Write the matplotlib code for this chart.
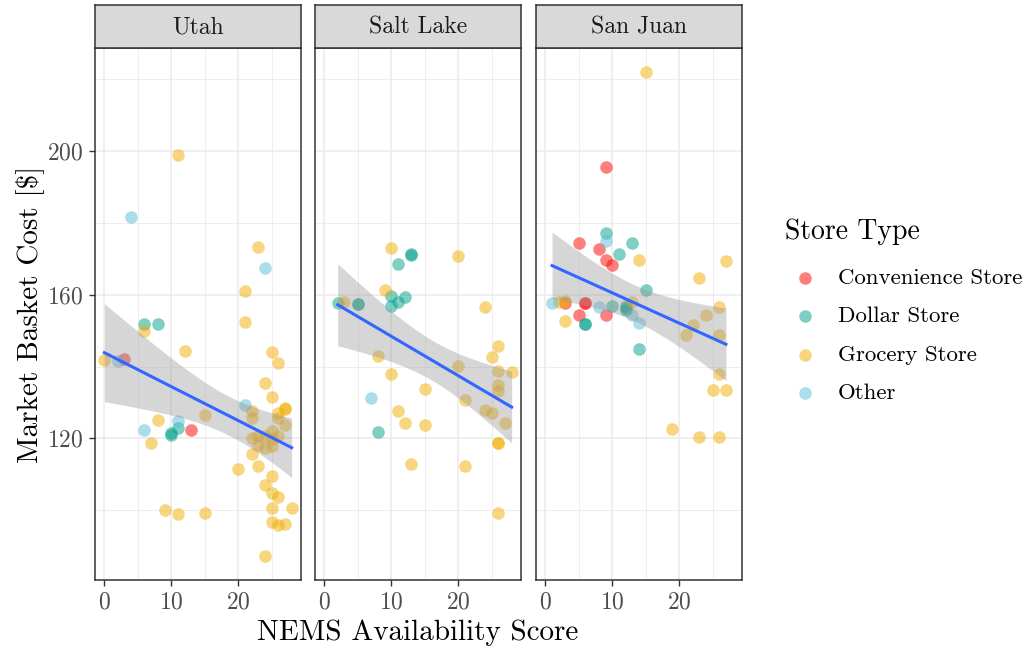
import numpy as np
import matplotlib
import matplotlib.pyplot as plt

matplotlib.use('Agg')

plt.rcParams['font.family'] = ['cmr10', 'DejaVu Serif']
plt.rcParams['axes.formatter.use_mathtext'] = True
plt.rcParams['mathtext.fontset'] = 'cm'

# store types and palette (wes anderson Darjeeling1)
store_types = ["Convenience Store", "Dollar Store", "Grocery Store", "Other"]
store_colors = ["#FF0000", "#00A08A", "#F2AD00", "#5BBCD6"]
counties = ["Utah", "Salt Lake", "San Juan"]

# ---- Utah ----
utah_conv_x = [3, 13]
utah_conv_y = [142.0, 122.3]
utah_dollar_x = [6, 8, 11, 10, 10]
utah_dollar_y = [152.0, 152.0, 123.0, 121.6, 121.0]
utah_groc_x = [0, 11, 23, 21, 6, 21, 12, 25, 26, 24, 25, 27, 27, 26, 22, 22, 26, 27,
               15, 8, 7, 25, 24, 26, 22, 23, 25, 23, 24, 25, 22, 23, 20, 25, 24,
               25, 26, 25, 28, 9, 11, 15, 25, 26, 27, 24]
utah_groc_y = [141.9, 199.0, 173.2, 161.0, 150.0, 152.4, 144.3, 144.1, 141.0, 135.3,
               131.6, 128.5, 128.3, 127.1, 127.6, 125.7, 125.7, 123.6, 126.4, 125.1,
               118.8, 122.0, 120.6, 120.6, 120.0, 120.6, 119.7, 118.3, 117.4, 117.8,
               115.6, 112.2, 111.4, 109.4, 107.0, 104.7, 103.6, 100.6, 100.5, 100.0,
               99.0, 99.2, 96.6, 96.0, 96.2, 87.3]
utah_other_x = [4, 24, 2, 21, 11, 6]
utah_other_y = [181.8, 167.4, 141.5, 129.2, 124.8, 122.3]

# ---- Salt Lake ----
sl_conv_x = []
sl_conv_y = []
sl_dollar_x = [13, 13, 11, 10, 12, 11, 10, 2, 5, 5, 8]
sl_dollar_y = [171.4, 171.0, 168.6, 159.8, 159.3, 158.1, 156.8, 157.7, 157.5, 157.5, 121.9]
sl_groc_x = [10, 20, 9, 3, 24, 26, 25, 8, 20, 10, 26, 28, 26, 26, 15, 21, 24, 25,
             11, 12, 15, 27, 26, 26, 13, 21, 26]
sl_groc_y = [173.1, 170.8, 161.4, 157.9, 156.6, 145.6, 142.7, 143.0, 140.3, 138.0,
             138.7, 138.5, 134.8, 133.3, 133.9, 130.6, 127.9, 127.1, 127.6, 124.3,
             123.7, 124.2, 118.8, 118.6, 112.9, 112.3, 99.2]
sl_other_x = [7]
sl_other_y = [131.2]

# ---- San Juan ----
sj_conv_x = [9, 5, 8, 9, 10, 3, 6, 6, 5, 9]
sj_conv_y = [195.5, 174.5, 172.7, 169.7, 168.3, 157.7, 157.7, 157.7, 154.4, 154.4]
sj_dollar_x = [9, 13, 11, 15, 10, 12, 12, 12, 6, 6, 14]
sj_dollar_y = [177.1, 174.4, 171.4, 161.2, 157.0, 157.0, 155.7, 156.2, 151.9, 151.9, 144.9]
sj_groc_x = [15, 14, 27, 23, 2, 3, 13, 3, 26, 24, 22, 21, 26, 26, 25, 27, 19, 23, 26]
sj_groc_y = [222.0, 169.7, 169.4, 164.8, 157.9, 158.4, 157.9, 152.8, 156.5, 154.4,
             151.6, 148.7, 148.9, 137.8, 133.6, 133.4, 122.5, 120.5, 120.3]
sj_other_x = [9, 1, 8, 13, 14]
sj_other_y = [175.1, 157.7, 156.6, 154.3, 152.1]

panels = {
    "Utah": [(utah_conv_x, utah_conv_y), (utah_dollar_x, utah_dollar_y),
             (utah_groc_x, utah_groc_y), (utah_other_x, utah_other_y)],
    "Salt Lake": [(sl_conv_x, sl_conv_y), (sl_dollar_x, sl_dollar_y),
                  (sl_groc_x, sl_groc_y), (sl_other_x, sl_other_y)],
    "San Juan": [(sj_conv_x, sj_conv_y), (sj_dollar_x, sj_dollar_y),
                 (sj_groc_x, sj_groc_y), (sj_other_x, sj_other_y)],
}

W, H = 1029, 651


def px_box(left, top, right, bottom):
    return [left / W, 1 - bottom / H, (right - left) / W, (bottom - top) / H]


def lm_band(x, y):
    """ linear fit with 95% confidence band, like geom_smooth(method='lm') """
    x = np.asarray(x, float)
    y = np.asarray(y, float)
    n = len(x)
    b, a = np.polyfit(x, y, 1)
    resid = y - (a + b * x)
    s = np.sqrt(np.sum(resid ** 2) / (n - 2))
    sxx = np.sum((x - x.mean()) ** 2)
    t = 1.96 + 2.4 / (n - 2)
    xs = np.linspace(x.min(), x.max(), 80)
    yhat = a + b * xs
    se = s * np.sqrt(1.0 / n + (xs - x.mean()) ** 2 / sxx)
    return xs, yhat, yhat - t * se, yhat + t * se


def main():
    fig = plt.figure(figsize=(W / 100, H / 100), dpi=100)

    all_x = []
    all_y = []
    for county in counties:
        for xs, ys in panels[county]:
            all_x += list(xs)
            all_y += list(ys)
    xr = max(all_x) - min(all_x)
    yr = max(all_y) - min(all_y)
    xlim = (min(all_x) - 0.05 * xr, max(all_x) + 0.05 * xr)
    ylim = (min(all_y) - 0.05 * yr, max(all_y) + 0.05 * yr)

    lefts = [95, 315, 536]
    for i, county in enumerate(counties):
        left = lefts[i]
        ax = fig.add_axes(px_box(left, 48, left + 206, 580))
        ax.set_xlim(xlim)
        ax.set_ylim(ylim)
        ax.set_xticks([0, 10, 20])
        ax.set_xticks([5, 15, 25], minor=True)
        ax.set_yticks([120, 160, 200])
        ax.set_yticks([100, 140, 180, 220], minor=True)
        ax.grid(True, which='major', color='#EBEBEB', linewidth=1.1)
        ax.grid(True, which='minor', color='#EBEBEB', linewidth=0.6)
        ax.set_axisbelow(True)
        for sp in ax.spines.values():
            sp.set_color('#333333')
            sp.set_linewidth(1.1)
        ax.tick_params(which='major', length=4.5, width=1.0, color='#333333',
                       labelsize=17, labelcolor='#4D4D4D', pad=3.5)
        ax.tick_params(which='minor', length=0)
        if i > 0:
            ax.tick_params(axis='y', labelleft=False, length=0)

        px_all = []
        py_all = []
        for (xs, ys), col in zip(panels[county], store_colors):
            if len(xs) == 0:
                continue
            ax.scatter(xs, ys, s=82, color=col, alpha=0.5, linewidths=0, zorder=2)
            px_all += list(xs)
            py_all += list(ys)

        xs, yhat, lo, hi = lm_band(px_all, py_all)
        ax.fill_between(xs, lo, hi, color='#999999', alpha=0.4, linewidth=0, zorder=3)
        ax.plot(xs, yhat, color='#3366FF', linewidth=2.2, zorder=4)

        # facet strip
        sax = fig.add_axes(px_box(left, 5, left + 206, 48))
        sax.set_facecolor('#D9D9D9')
        sax.set_xticks([])
        sax.set_yticks([])
        for sp in sax.spines.values():
            sp.set_color('#333333')
            sp.set_linewidth(1.1)
        sax.text(0.5, 0.47, county, ha='center', va='center', fontsize=17,
                 color='#1A1A1A', transform=sax.transAxes)

    fig.text(418 / W, 1 - 633 / H, "NEMS Availability Score", ha='center', va='center',
             fontsize=21)
    fig.text(30 / W, 1 - 314 / H, r"Market Basket Cost [\$]", ha='center', va='center',
             rotation=90, fontsize=21)

    # legend, placed by hand in pixel coordinates
    lax = fig.add_axes([0, 0, 1, 1])
    lax.set_xlim(0, W)
    lax.set_ylim(H, 0)
    lax.axis('off')
    lax.text(785, 232, "Store Type", ha='left', va='center', fontsize=20)
    for k, (lab, col) in enumerate(zip(store_types, store_colors)):
        yk = 278 + k * 38.4
        lax.scatter([805], [yk], s=82, color=col, alpha=0.5, linewidths=0)
        lax.text(838, yk, lab, ha='left', va='center', fontsize=16.5)

    plt.savefig('out.png', dpi=100)


if __name__ == '__main__':
    main()
